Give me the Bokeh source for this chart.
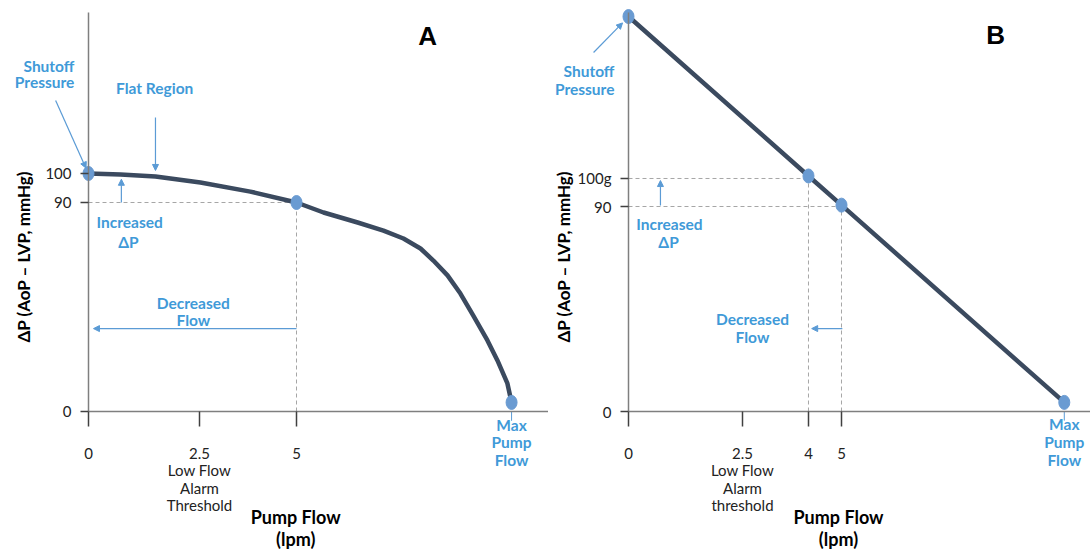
from bokeh.plotting import figure
from bokeh.models import FixedTicker, Label, Arrow, NormalHead, Range1d, LinearAxis
from bokeh.layouts import row
from bokeh.embed import file_html
from bokeh.resources import INLINE

# ---------------- data (schematic diagram) ----------------
# Panel A : centrifugal pump H-Q curve (flow in lpm, pressure in mmHg, schematic scale)
a_flow = [0, 0.77, 1.61, 2.69, 3.89, 5, 5.65, 6.47, 7.09, 7.57, 7.98, 8.29, 8.63,
          8.94, 9.25, 9.59, 9.83, 10.07, 10.17]
a_dp = [102.5, 102.1, 101.2, 98.6, 94.7, 90, 85.7, 81.4, 77.9, 74.5, 70.2, 65.0, 58.6,
        50.8, 41.3, 30.6, 22.0, 12.1, 3.9]
a_pts_flow = [0, 5, 10.17]
a_pts_dp = [102.5, 90, 3.9]
a_xticks = [0, 2.668, 5]
a_xlabels = ["0", "2.5\nLow Flow\nAlarm\nThreshold", "5"]
a_yticks = [0, 90, 102.5]
a_ylabels = ["0", "90", "100"]

# Panel B : linear pump curve
b_flow = [0, 4.225, 5, 10.23]
b_dp = [173.4, 103.4, 90.6, 4.0]
b_xticks = [0, 2.676, 4.225, 5]
b_xlabels = ["0", "2.5\nLow Flow\nAlarm\nthreshold", "4", "5"]
b_yticks = [0, 90, 102.3]
b_ylabels = ["0", "90", "100g"]

# ---------------- styles ----------------
FONT = "Lato"
BLUE_TXT = "#3f9ad8"
BLUE_PT = "#6a9bd2"
BLUE_ARR = "#5b9bd5"
CURVE = "#3b4a5f"
GUIDE = "#a6a6a6"
H = 554


def base_fig(width, xr, yr, xbounds, ybounds, xticks, xlabels, yticks, ylabels):
    p = figure(width=width, height=H, output_backend="svg", toolbar_location=None,
               x_range=Range1d(*xr), y_range=Range1d(*yr),
               x_axis_location=None, y_axis_location=None, min_border=0)
    p.outline_line_color = None
    p.grid.visible = False
    p.background_fill_color = "white"
    p.border_fill_color = "white"
    xa = LinearAxis(fixed_location=0, bounds=xbounds,
                    ticker=FixedTicker(ticks=xticks),
                    major_label_overrides={t: l for t, l in zip(xticks, xlabels)})
    ya = LinearAxis(fixed_location=0, bounds=ybounds,
                    ticker=FixedTicker(ticks=yticks),
                    major_label_overrides={t: l for t, l in zip(yticks, ylabels)})
    for ax in (xa, ya):
        ax.axis_line_color = "#7f7f7f"
        ax.axis_line_width = 1.5
        ax.major_tick_line_color = "#404040"
        ax.major_tick_line_width = 1.5
        ax.minor_tick_line_color = None
        ax.major_tick_in = 0
        ax.major_label_text_font = FONT
        ax.major_label_text_font_size = "15px"
        ax.major_label_text_color = "#222222"
        ax.major_label_text_line_height = 0.98
    xa.major_tick_out = 15
    xa.major_label_standoff = 17
    ya.major_tick_out = 8
    ya.major_label_standoff = 9
    p.add_layout(xa, "below")
    p.add_layout(ya, "left")
    return p


def txt(p, x, y, s, color=BLUE_TXT, size="15.5px", bold=True, align="center", angle=0, font=FONT):
    p.add_layout(Label(x=x, y=y, text=s, text_color=color, text_font=font,
                       text_font_size=size, text_font_style="bold" if bold else "normal",
                       text_align=align, text_baseline="middle", angle=angle))


def arrow(p, x0, y0, x1, y1):
    p.add_layout(Arrow(x_start=x0, y_start=y0, x_end=x1, y_end=y1,
                       line_color=BLUE_ARR, line_width=1.2,
                       end=NormalHead(size=6, fill_color=BLUE_ARR, line_color=BLUE_ARR)))


# ================= Panel A =================
pa = base_fig(548, (-2.1154, 11.0577), (-61.58, 176.99), (0, 11.05), (0, 171.8),
              a_xticks, a_xlabels, a_yticks, a_ylabels)
# guides to operating point (5 lpm, 90 mmHg)
pa.segment(x0=[a_pts_flow[0], a_pts_flow[1]], y0=[a_pts_dp[1], 0],
           x1=[a_pts_flow[1], a_pts_flow[1]], y1=[a_pts_dp[1], a_pts_dp[1]],
           line_color=GUIDE, line_width=1, line_dash="4 3")
pa.segment(x0=[a_pts_flow[2]], y0=[0], x1=[a_pts_flow[2]], y1=[-4], line_color=BLUE_ARR, line_width=1)
pa.line(a_flow, a_dp, line_color=CURVE, line_width=4.5, line_join="round", line_cap="round")
pa.ellipse(a_pts_flow, a_pts_dp, width=11, height=14, width_units="screen",
           height_units="screen", fill_color=BLUE_PT, line_color=BLUE_PT)

txt(pa, -0.34, 148.6, "Shutoff", align="right")
txt(pa, -0.34, 141.7, "Pressure", align="right")
arrow(pa, -0.79, 133.9, -0.06, 104.8)
txt(pa, 1.59, 139.1, "Flat Region")
arrow(pa, 1.61, 126.6, 1.61, 103.8)
arrow(pa, 0.79, 90.0, 0.79, 100.0)
txt(pa, 0.99, 81.4, "Increased")
txt(pa, 0.96, 73.2, "ΔP")
txt(pa, 2.52, 46.9, "Decreased")
txt(pa, 2.52, 39.6, "Flow")
arrow(pa, 5.0, 35.7, 0.12, 35.7)
for s, yy in zip(["Max", "Pump", "Flow"], [-5.6, -13.3, -20.7]):
    txt(pa, a_pts_flow[2], yy, s)
txt(pa, 8.15, 161.5, "A", color="#000000", size="26px", font="Liberation Sans")
txt(pa, -1.56, 66.7, "ΔP (AoP – LVP, mmHg)", color="#000000", size="17px", angle=1.5708)
txt(pa, 4.98, -45.6, "Pump Flow", color="#000000", size="18px")
txt(pa, 4.98, -54.7, "(lpm)", color="#000000", size="18px")

# ================= Panel B =================
pb = base_fig(542, (-1.8779, 10.8451), (-62.78, 180.44), (0, 10.85), (0, 175.2),
              b_xticks, b_xlabels, b_yticks, b_ylabels)
pb.segment(x0=[0, 0, b_flow[1], b_flow[2]],
           y0=[b_yticks[2], b_yticks[1], 0, 0],
           x1=[b_flow[1], b_flow[2], b_flow[1], b_flow[2]],
           y1=[b_yticks[2], b_yticks[1], b_yticks[2], b_yticks[1]],
           line_color=GUIDE, line_width=1, line_dash="4 3")
pb.segment(x0=[b_flow[3]], y0=[0], x1=[b_flow[3]], y1=[-4], line_color=BLUE_ARR, line_width=1)
pb.line(b_flow, b_dp, line_color=CURVE, line_width=4.5, line_join="round", line_cap="round")
pb.ellipse(b_flow, b_dp, width=11, height=14, width_units="screen",
           height_units="screen", fill_color=BLUE_PT, line_color=BLUE_PT)

txt(pb, -0.33, 149.3, "Shutoff", align="right")
txt(pb, -0.33, 141.4, "Pressure", align="right")
arrow(pb, -0.82, 157.6, -0.14, 170.6)
arrow(pb, 0.75, 90.4, 0.75, 101.4)
txt(pb, 0.96, 82.1, "Increased")
txt(pb, 0.94, 74.2, "ΔP")
txt(pb, 2.91, 40.4, "Decreased")
txt(pb, 2.91, 32.9, "Flow")
arrow(pb, 5.02, 36.4, 4.30, 36.4)
for s, yy in zip(["Max", "Pump", "Flow"], [-5.7, -13.2, -21.1]):
    txt(pb, b_flow[3], yy, s)
txt(pb, 8.62, 165.1, "B", color="#000000", size="26px", font="Liberation Sans")
txt(pb, -1.53, 68.0, "ΔP (AoP – LVP, mmHg)", color="#000000", size="17px", angle=1.5708)
txt(pb, 4.93, -46.5, "Pump Flow", color="#000000", size="18px")
txt(pb, 4.93, -55.8, "(lpm)", color="#000000", size="18px")

layout = row(pa, pb, spacing=0)
open("out.html", "w").write(file_html(layout, INLINE))
